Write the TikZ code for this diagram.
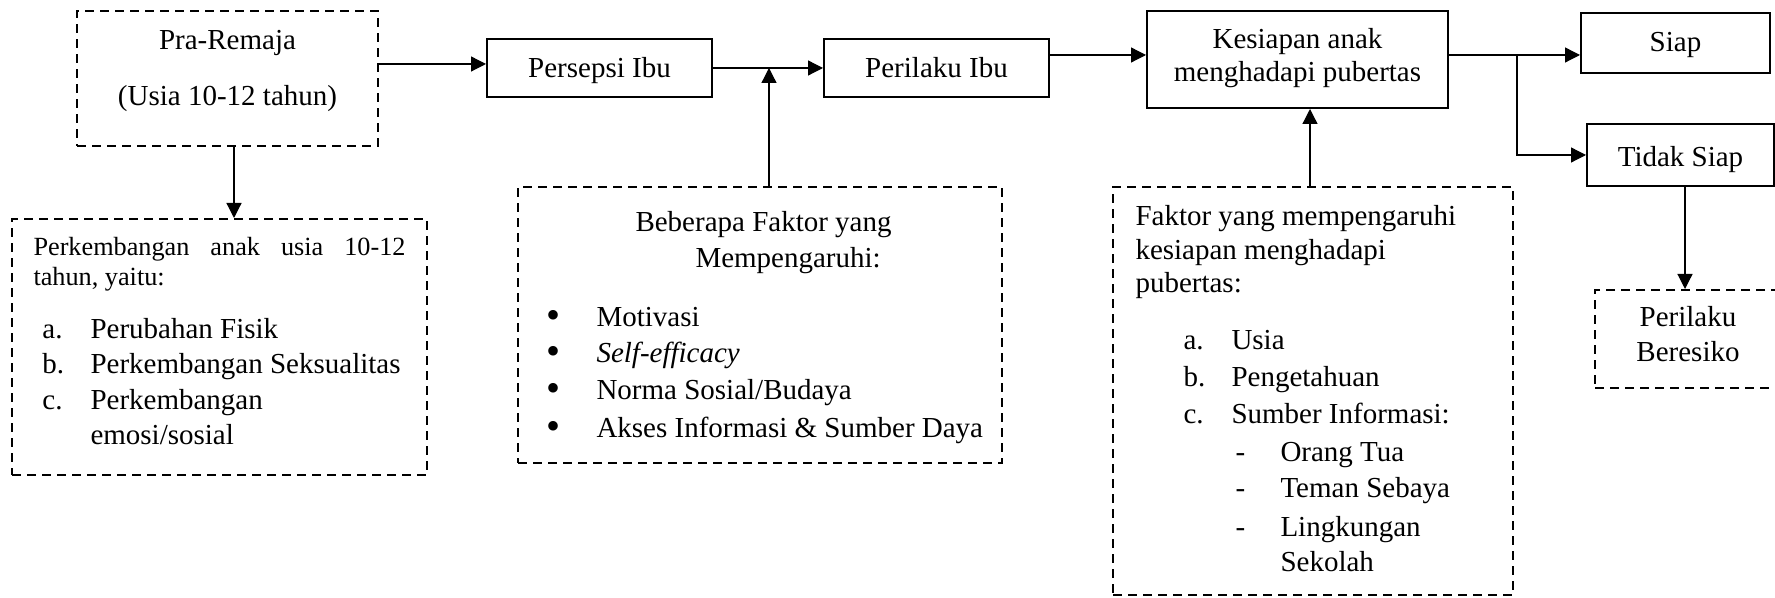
\documentclass[tikz,border=0pt]{standalone}
\usepackage{fontspec}
\setmainfont{Liberation Serif}
\usetikzlibrary{arrows.meta}
\newlength\pxu
\setlength\pxu{0.4pt}
\newcommand\mainsz{\fontsize{11.6}{13.6}\selectfont}
\newcommand\smallsz{\fontsize{10.5}{12}\selectfont}
\newcommand\bigbullet{{\fontsize{16}{16}\selectfont\textbullet}}
\begin{document}
\begin{tikzpicture}[x=\pxu,y=-\pxu,
  solidbox/.style={draw, line width=0.8pt, inner sep=0pt, align=center, font=\mainsz},
  dashbox/.style={draw, line width=0.8pt, dash pattern=on 3.6pt off 2.4pt, inner sep=0pt},
  conn/.style={line width=0.5pt},
  arr/.style={conn, -{Triangle[length=6pt,width=6pt]}},
  txt/.style={inner sep=0pt, anchor=base west, font=\mainsz},
  ctxt/.style={inner sep=0pt, anchor=base, font=\mainsz}]
\useasboundingbox (0,0) rectangle (1775,598);
% frames
\node[dashbox, minimum width=301\pxu, minimum height=135\pxu] (pra) at (227.5,78.5) {};
\node[dashbox, minimum width=415\pxu, minimum height=256\pxu] (perk) at (219.5,347) {};
\node[solidbox, minimum width=225\pxu, minimum height=58\pxu, text height=8pt, text depth=0pt] (pers) at (599.5,68) {Persepsi Ibu};
\node[solidbox, minimum width=225\pxu, minimum height=58\pxu, text height=8pt, text depth=0pt] (peril) at (936.5,68) {Perilaku Ibu};
\node[dashbox, minimum width=484\pxu, minimum height=276\pxu] (bebe) at (760,325) {};
\node[solidbox, minimum width=301\pxu, minimum height=97\pxu] (kes) at (1297.5,59.5) {};
\node[dashbox, minimum width=400\pxu, minimum height=408\pxu] (fakt) at (1313,391) {};
\node[solidbox, minimum width=189\pxu, minimum height=60\pxu, text height=8.5pt, text depth=2pt] (siap) at (1675.5,43) {Siap};
\node[solidbox, minimum width=187\pxu, minimum height=62\pxu, text height=9.6pt, text depth=0pt] (tidak) at (1680.5,155) {Tidak Siap};
\node[dashbox, minimum width=186\pxu, minimum height=98\pxu] (beres) at (1688,339) {};
% texts
\node[ctxt] (kesA) at (1297.5,49) {Kesiapan anak};
\node[ctxt] (kesB) at (1297.5,82) {menghadapi pubertas};
\node[ctxt] (praA) at (227.5,50) {Pra-Remaja};
\node[ctxt] (praB) at (227.5,106) {(Usia 10-12 tahun)};
\node[txt, font=\smallsz] (perkA) at (33,256) {\makebox[372\pxu][s]{Perkembangan anak usia 10-12}};
\node[txt, font=\smallsz] (perkB) at (33,286) {tahun, yaitu:};
\node[txt] (perkLa) at (42,339) {a.};
\node[txt] (perkTa) at (90,339) {Perubahan Fisik};
\node[txt] (perkLb) at (42,374) {b.};
\node[txt] (perkTb) at (90,374) {Perkembangan Seksualitas};
\node[txt] (perkLc) at (42,410) {c.};
\node[txt] (perkTc) at (90,410) {Perkembangan};
\node[txt] (perkTd) at (90,445) {emosi/sosial};
\node[txt] (bebeA) at (635,232) {Beberapa Faktor yang};
\node[txt] (bebeB) at (695,268) {Mempengaruhi:};
\node[ctxt] (bebeL1) at (553,329) {\bigbullet};
\node[txt] (bebeT1) at (596,327) {Motivasi};
\node[ctxt] (bebeL2) at (553,365) {\bigbullet};
\node[txt] (bebeT2) at (596,363) {\textit{Self-efficacy}};
\node[ctxt] (bebeL3) at (553,402) {\bigbullet};
\node[txt] (bebeT3) at (596,400) {Norma Sosial/Budaya};
\node[ctxt] (bebeL4) at (553,440) {\bigbullet};
\node[txt] (bebeT4) at (596,438) {Akses Informasi \& Sumber Daya};
\node[txt] (faktA) at (1135,226) {Faktor yang mempengaruhi};
\node[txt] (faktB) at (1135,260) {kesiapan menghadapi};
\node[txt] (faktC) at (1135,293) {pubertas:};
\node[txt] (faktLa) at (1183,350) {a.};
\node[txt] (faktTa) at (1231,350) {Usia};
\node[txt] (faktLb) at (1183,387) {b.};
\node[txt] (faktTb) at (1231,387) {Pengetahuan};
\node[txt] (faktLc) at (1183,424) {c.};
\node[txt] (faktTc) at (1231,424) {Sumber Informasi:};
\node[txt] (faktD1) at (1235,462) {-};
\node[txt] (faktS1) at (1280,462) {Orang Tua};
\node[txt] (faktD2) at (1235,498) {-};
\node[txt] (faktS2) at (1280,498) {Teman Sebaya};
\node[txt] (faktD3) at (1235,537) {-};
\node[txt] (faktS3) at (1280,537) {Lingkungan};
\node[txt] (faktS4) at (1280,572) {Sekolah};
\node[ctxt] (beresA) at (1688,327) {Perilaku};
\node[ctxt] (beresB) at (1688,362) {Beresiko};
% helper coordinates
\coordinate (y64) at (0,64);
\coordinate (y55) at (0,55);
\coordinate (j1) at (769,68);
\coordinate (j2) at (1517,55);
\coordinate (x234) at (234,0);
\coordinate (x1310) at (1310,0);
\coordinate (x1685) at (1685,0);
% connectors
\draw[arr] (pra.east |- y64) -- (pers.west |- y64);
\draw[arr] (pra.south -| x234) -- (perk.north -| x234);
\draw[arr] (pers) -- (peril);
\draw[arr] (bebe.north -| j1) -- (j1);
\draw[arr] (peril.east |- y55) -- (kes.west |- y55);
\draw[arr] (fakt.north -| x1310) -- (kes.south -| x1310);
\draw[arr] (kes.east |- y55) -- (siap.west |- y55);
\draw[arr] (j2) |- (tidak.west);
\draw[arr] (tidak.south -| x1685) -- (beres.north -| x1685);
\end{tikzpicture}
\end{document}
